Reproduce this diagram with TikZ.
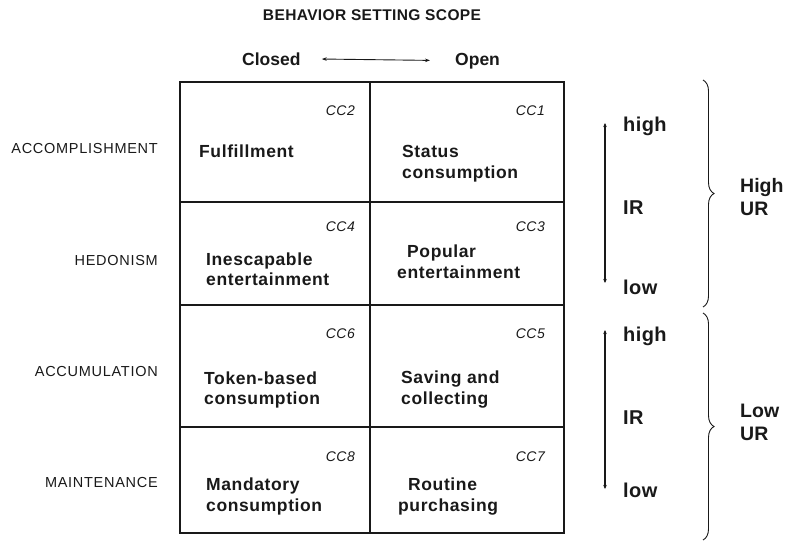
\documentclass[tikz,border=0pt]{standalone}
\usepackage{fontspec}
\setmainfont{Liberation Sans}
\usetikzlibrary{arrows.meta,decorations.pathreplacing}
\definecolor{ink}{gray}{0.1}
\tikzset{
  cell/.style={font=\bfseries\fontsize{17.5}{20.5}\selectfont\addfontfeature{LetterSpace=3.5}, align=left, inner sep=0pt, text=ink},
  cclab/.style={font=\itshape\fontsize{14}{16}\selectfont\addfontfeature{LetterSpace=3}, inner sep=0pt, anchor=east, text=ink},
  rowlab/.style={font=\fontsize{14.5}{17}\selectfont\addfontfeature{LetterSpace=5}, inner sep=0pt, anchor=base east, text=ink},
  scopelab/.style={font=\bfseries\fontsize{17.5}{20}\selectfont, inner sep=0pt, anchor=base west, text=ink},
  irlab/.style={font=\bfseries\fontsize{20}{22}\selectfont\addfontfeature{LetterSpace=2}, inner sep=0pt, anchor=base west, text=ink},
  urlab/.style={font=\bfseries\fontsize{19.5}{23}\selectfont, inner sep=0pt, align=left, anchor=west, text=ink},
  gridline/.style={line width=1.3pt, draw=ink},
  irline/.style={line width=1.1pt, draw=ink, {Stealth[length=4pt,width=3.5pt]}-{Stealth[length=4pt,width=3.5pt]}},
  bracestyle/.style={line width=0.9pt, draw=ink, decorate, decoration={brace, amplitude=11pt}},
}
\begin{document}
\begin{tikzpicture}[x=1pt,y=-1pt]
\useasboundingbox (0,0) rectangle (787,550);

% title and scope
\node[font=\bfseries\fontsize{15.5}{18}\selectfont\addfontfeature{LetterSpace=2.5}, inner sep=0pt, anchor=base, text=ink] (title) at (372,20) {BEHAVIOR SETTING SCOPE};
\node[scopelab] (closed) at (242,65) {Closed};
\node[scopelab] (open) at (455,65) {Open};
\draw[line width=0.9pt, draw=ink, {Stealth[length=5pt,width=3.5pt]}-{Stealth[length=5pt,width=3.5pt]}, shorten <=21pt, shorten >=25pt] (closed.east) -- (open.west);

% grid
\draw[gridline] (180,82) rectangle (564,533);
\draw[gridline] (180,202) -- (564,202);
\draw[gridline] (180,305) -- (564,305);
\draw[gridline] (180,427) -- (564,427);
\draw[gridline] (370,82) -- (370,533);

% row labels
\node[rowlab] (acc) at (158,153) {ACCOMPLISHMENT};
\node[rowlab] (hed) at (158,265) {HEDONISM};
\node[rowlab] (accu) at (158,376) {ACCUMULATION};
\node[rowlab] (main) at (158,487) {MAINTENANCE};

% CC labels
\node[cclab] (cc2) at (355,111) {CC2};
\node[cclab] (cc1) at (545,111) {CC1};
\node[cclab] (cc4) at (355,227) {CC4};
\node[cclab] (cc3) at (545,227) {CC3};
\node[cclab] (cc6) at (355,334) {CC6};
\node[cclab] (cc5) at (545,334) {CC5};
\node[cclab] (cc8) at (355,457) {CC8};
\node[cclab] (cc7) at (545,457) {CC7};

% cell texts
\node[cell, anchor=base west] (fulf) at (199,157) {Fulfillment};
\node[cell, anchor=west] (status) at (402,163.5) {Status\\consumption};
\node[cell, anchor=west] (inesc) at (206,269) {Inescapable\\entertainment};
\node[cell, anchor=west] (popular) at (397,261.5) {\hspace*{10pt}Popular\\entertainment};
\node[cell, anchor=west] (token) at (204,390) {Token-based\\consumption};
\node[cell, anchor=west] (saving) at (401,389.5) {Saving and\\collecting};
\node[cell, anchor=west] (mand) at (206,496.5) {Mandatory\\consumption};
\node[cell, anchor=west] (routine) at (398,496.5) {\hspace*{10pt}Routine\\purchasing};

% IR scales
\coordinate (ira) at (605,123);
\coordinate (irb) at (605,283);
\draw[irline] (ira) -- (irb);
\node[irlab] (high1) at (623,131) {high};
\node[irlab] (ir1) at (623,214) {IR};
\node[irlab] (low1) at (623,294) {low};

\coordinate (irc) at (605,330);
\coordinate (ird) at (605,489);
\draw[irline] (irc) -- (ird);
\node[irlab] (high2) at (623,341) {high};
\node[irlab] (ir2) at (623,424) {IR};
\node[irlab] (low2) at (623,497) {low};

% braces
\coordinate (b1t) at (703,80);
\coordinate (b1b) at (703,307);
\draw[bracestyle] (b1t) -- (b1b);
\node[urlab] (highur) at (740,197) {High\\UR};

\coordinate (b2t) at (703,313);
\coordinate (b2b) at (703,540);
\draw[bracestyle] (b2t) -- (b2b);
\node[urlab] (lowur) at (740,422) {Low\\UR};
\end{tikzpicture}
\end{document}
